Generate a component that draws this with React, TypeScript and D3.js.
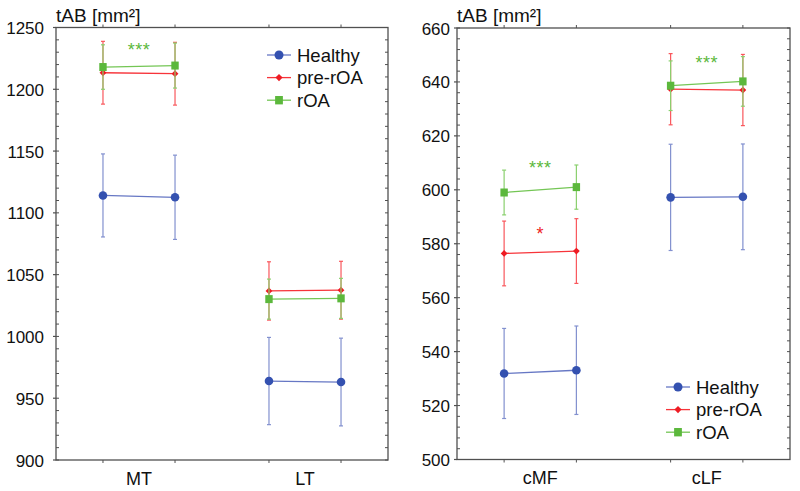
import React from 'react';
import * as d3 from 'd3';

const groupNames = ['Healthy', 'pre-rOA', 'rOA'];
const leftCategories = ['MT', 'LT'];
const rightCategories = ['cMF', 'cLF'];
const leftTitle = 'tAB [mm²]';
const rightTitle = 'tAB [mm²]';

// values ordered: [cat0 time1, cat0 time2, cat1 time1, cat1 time2]
const healthyLeftMean = [1114.1, 1112.6, 963.9, 963.1];
const healthyLeftSd = [33.6, 34.1, 35.3, 35.5];
const preLeftMean = [1213.4, 1212.6, 1036.8, 1037.4];
const preLeftSd = [25.4, 25.4, 23.6, 23.4];
const roaLeftMean = [1218.0, 1219.2, 1030.2, 1030.8];
const roaLeftSd = [18.0, 18.2, 16.2, 16.2];

const healthyRightMean = [531.9, 533.1, 597.2, 597.4];
const healthyRightSd = [16.7, 16.4, 19.7, 19.6];
const preRightMean = [576.4, 577.3, 637.3, 637.0];
const preRightSd = [12.0, 12.0, 13.2, 13.2];
const roaRightMean = [599.0, 601.0, 638.6, 640.2];
const roaRightSd = [8.3, 8.2, 9.2, 9.2];

const leftDomain = [900, 1250];
const rightDomain = [500, 660];

const sigLeft = [{ cat: 0, text: '***', group: 2, value: 1235 }];
const sigRight = [
  { cat: 0, text: '***', group: 2, value: 609.4 },
  { cat: 0, text: '*', group: 1, value: 585.1 },
  { cat: 1, text: '***', group: 2, value: 648.4 },
];

const markerColors = ['#3451b0', '#ee1c24', '#5cb83c'];
const lineColors = ['#6677c4', '#f7343a', '#74c655'];
const errColors = ['#8290cf', '#f9575c', '#8ad06e'];
const axisColor = '#505050';
const FONT = 'Liberation Sans, Arial, sans-serif';

type PanelProps = {
  x0: number; x1: number; yTop: number; yBottom: number;
  domain: number[]; majorStep: number; minorStep: number;
  categories: string[]; title: string;
  means: number[][]; sds: number[][];
  sig: { cat: number; text: string; group: number; value: number }[];
  legendX: number; legendY: number; labelGap: number;
};

function Marker({ g, x, y, s = 1 }: { g: number; x: number; y: number; s?: number }) {
  const c = markerColors[g];
  if (g === 0) return <circle cx={x} cy={y} r={4.3 * s} fill={c} />;
  if (g === 1) {
    const r = 3.4 * s;
    return <path d={`M${x},${y - r}L${x + r},${y}L${x},${y + r}L${x - r},${y}Z`} fill={c} />;
  }
  const h = 3.7 * s;
  return <rect x={x - h} y={y - h - 0.3} width={2 * h} height={2 * h + 0.6} fill={c} />;
}

function Panel(p: PanelProps) {
  const xs = d3.scaleLinear().domain([-0.5, 1.5]).range([p.x0, p.x1]);
  const ys = d3.scaleLinear().domain(p.domain).range([p.yBottom, p.yTop]);
  const offset = 0.217;
  const px = (i: number) => xs(Math.floor(i / 2) + (i % 2 === 0 ? -offset : offset));
  const majors = d3.range(p.domain[0], p.domain[1] + 0.001, p.majorStep);
  const minors = d3.range(p.domain[0], p.domain[1] + 0.001, p.minorStep);
  const pointIdx = [0, 1, 2, 3];
  return (
    <g>
      {p.means.map((m, g) => (
        <g key={g}>
          {[0, 1].map((cat) => (
            <line key={cat} x1={px(cat * 2)} x2={px(cat * 2 + 1)} y1={ys(m[cat * 2])} y2={ys(m[cat * 2 + 1])}
              stroke={lineColors[g]} strokeWidth={1.3} />
          ))}
          {pointIdx.map((i) => {
            const x = px(i);
            const yt = ys(m[i] + p.sds[g][i]);
            const yb = ys(m[i] - p.sds[g][i]);
            return (
              <g key={i}>
                <line x1={x} x2={x} y1={yt} y2={yb} stroke={errColors[g]} strokeWidth={1.2} />
                <line x1={x - 2} x2={x + 2} y1={yt} y2={yt} stroke={errColors[g]} strokeWidth={1.2} />
                <line x1={x - 2} x2={x + 2} y1={yb} y2={yb} stroke={errColors[g]} strokeWidth={1.2} />
              </g>
            );
          })}
          {pointIdx.map((i) => <Marker key={i} g={g} x={px(i)} y={ys(m[i])} />)}
        </g>
      ))}
      {p.sig.map((s, k) => (
        <text key={k} x={xs(s.cat)} y={ys(s.value) + 10} textAnchor="middle" fontFamily={FONT}
          fontSize={18} letterSpacing={0.5} fill={markerColors[s.group]}>{s.text}</text>
      ))}
      <rect x={p.x0} y={p.yTop} width={p.x1 - p.x0} height={p.yBottom - p.yTop} fill="none" stroke={axisColor} strokeWidth={1.3} />
      {minors.map((v) => (
        <g key={'m' + v}>
          <line x1={p.x0} x2={p.x0 + 3} y1={ys(v)} y2={ys(v)} stroke={axisColor} strokeWidth={1} />
          <line x1={p.x1} x2={p.x1 - 3} y1={ys(v)} y2={ys(v)} stroke={axisColor} strokeWidth={1} />
        </g>
      ))}
      {majors.map((v) => (
        <g key={'M' + v}>
          <line x1={p.x0 - 3} x2={p.x0} y1={ys(v)} y2={ys(v)} stroke={axisColor} strokeWidth={1.2} />
          <text x={p.x0 - p.labelGap} y={ys(v) + 6.5} textAnchor="end" fontFamily={FONT} fontSize={17} fill="#111">{v}</text>
        </g>
      ))}
      {pointIdx.map((i) => (
        <g key={'x' + i}>
          <line x1={px(i)} x2={px(i)} y1={p.yTop} y2={p.yTop - 3} stroke={axisColor} strokeWidth={1} />
          <line x1={px(i)} x2={px(i)} y1={p.yBottom} y2={p.yBottom + 3} stroke={axisColor} strokeWidth={1} />
        </g>
      ))}
      {p.categories.map((c, k) => (
        <text key={c} x={xs(k)} y={p.yBottom + 24.5} textAnchor="middle" fontFamily={FONT} fontSize={18} fill="#111">{c}</text>
      ))}
      <text x={p.x0} y={p.yTop - 6} fontFamily={FONT} fontSize={19} fill="#111">{p.title}</text>
      {groupNames.map((name, g) => {
        const y = p.legendY + g * 22.6;
        return (
          <g key={name}>
            <line x1={p.legendX} x2={p.legendX + 24} y1={y} y2={y} stroke={lineColors[g]} strokeWidth={1.3} />
            <Marker g={g} x={p.legendX + 12} y={y} s={1.05} />
            <text x={p.legendX + 30} y={y + 6.5} fontFamily={FONT} fontSize={18.5} fill="#111">{name}</text>
          </g>
        );
      })}
    </g>
  );
}

export default function App() {
  return (
    <svg width={800} height={491} style={{ position: 'absolute', left: 0, top: 0, background: '#fff' }}>
      <rect width={800} height={491} fill="#fff" />
      <Panel x0={56} x1={388} yTop={27.5} yBottom={460} domain={leftDomain} majorStep={50} minorStep={10}
        categories={leftCategories} title={leftTitle}
        means={[healthyLeftMean, preLeftMean, roaLeftMean]} sds={[healthyLeftSd, preLeftSd, roaLeftSd]}
        sig={sigLeft} legendX={267} legendY={55} labelGap={12} />
      <Panel x0={457} x1={790} yTop={28} yBottom={459.5} domain={rightDomain} majorStep={20} minorStep={4}
        categories={rightCategories} title={rightTitle}
        means={[healthyRightMean, preRightMean, roaRightMean]} sds={[healthyRightSd, preRightSd, roaRightSd]}
        sig={sigRight} legendX={666} legendY={387} labelGap={7} />
    </svg>
  );
}
